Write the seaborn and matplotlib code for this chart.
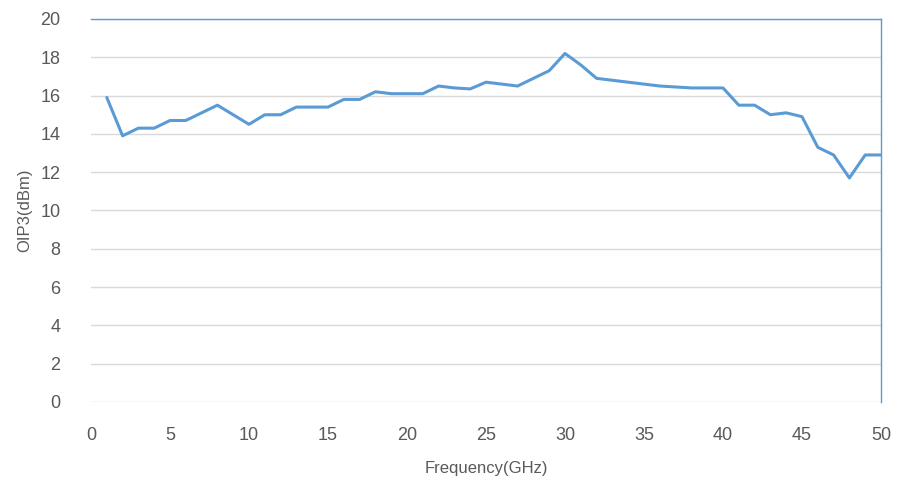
import pandas as pd
import matplotlib.pyplot as plt
import seaborn as sns

# dados (OIP3 vs frequência, passo de 1 GHz)
freq_ghz = list(range(1, 51))
oip3_dbm = [15.9, 13.9, 14.3, 14.3, 14.7, 14.7, 15.1, 15.5, 15.0, 14.5,
            15.0, 15.0, 15.4, 15.4, 15.4, 15.8, 15.8, 16.2, 16.1, 16.1,
            16.1, 16.5, 16.4, 16.35, 16.7, 16.6, 16.5, 16.9, 17.3, 18.2,
            17.6, 16.9, 16.8, 16.7, 16.6, 16.5, 16.45, 16.4, 16.4, 16.4,
            15.5, 15.5, 15.0, 15.1, 14.9, 13.3, 12.9, 11.7, 12.9, 12.9]
x_ticks = list(range(0, 51, 5))
y_ticks = list(range(0, 21, 2))

df = pd.DataFrame({'Frequency': freq_ghz, 'OIP3': oip3_dbm})

sns.set_theme(style="whitegrid")
plt.rcParams['font.family'] = ['Liberation Sans', 'DejaVu Sans']

fig = plt.figure(figsize=(9.01, 4.84), dpi=100)
ax = fig.add_axes([91 / 901, 82 / 484, 790 / 901, 383 / 484])

line_color = '#5B9BD5'
sns.lineplot(x='Frequency', y='OIP3', data=df, color=line_color,
             linewidth=2.2, ax=ax)

ax.set_xlim(0, 50)
ax.set_ylim(0, 20)
ax.set_xticks(x_ticks)
ax.set_yticks(y_ticks)
ax.grid(axis='y', color='#D9D9D9', linewidth=1)
ax.grid(axis='x', visible=False)

for side in ['left', 'bottom']:
    ax.spines[side].set_visible(False)
for side in ['top', 'right']:
    ax.spines[side].set_visible(True)
    ax.spines[side].set_color(line_color)
    ax.spines[side].set_linewidth(1)

ax.tick_params(axis='both', length=0, labelsize=13, colors='#595959')
ax.tick_params(axis='y', pad=22)
ax.tick_params(axis='x', pad=18)

ax.set_xlabel('Frequency(GHz)', fontsize=12, color='#595959', labelpad=12)
ax.set_ylabel('OIP3(dBm)', fontsize=12, color='#595959', labelpad=6)

plt.savefig('out.png', dpi=100)
